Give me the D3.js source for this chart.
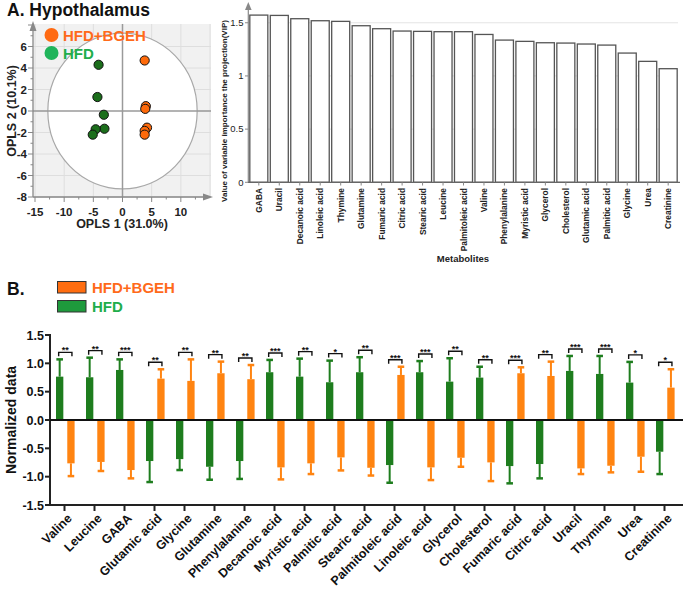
<!DOCTYPE html>
<html><head><meta charset="utf-8">
<script src="https://cdn.jsdelivr.net/npm/d3@7"></script>
<style>body{margin:0;background:#fff}svg{display:block;font-family:"Liberation Sans",Arial,sans-serif}</style>
</head><body>
<svg id="c" width="685" height="590"></svg>
<script>
// ---------- Panel A: OPLS-DA scores ----------
const bgehScoreX = [3.8, 4.0, 3.9, 4.2, 3.8, 3.8];
const bgehScoreY = [4.7, 0.45, 0.2, -1.55, -1.85, -2.2];
const hfdScoreX = [-4.1, -4.3, -3.2, -3.1, -4.6, -5.1];
const hfdScoreY = [4.3, 1.3, -0.35, -1.65, -1.7, -2.2];
const scoreXTicks = [-15, -10, -5, 0, 5, 10];
const scoreYTicks = [-8, -6, -4, -2, 0, 2, 4, 6];
const ellipseRadii = [12.8, 7.25];

// ---------- Panel A: VIP ----------
const vipMetabolites = ["GABA","Uracil","Decanoic acid","Linoleic acid","Thymine","Glutamine","Fumaric acid","Citric acid","Stearic acid","Leucine","Palmitoleic acid","Valine","Phenylalanine","Myristic acid","Glycerol","Cholesterol","Glutamic acid","Palmitic acid","Glycine","Urea","Creatinine"];
const vipValues = [1.572,1.569,1.538,1.519,1.513,1.472,1.444,1.422,1.419,1.416,1.416,1.39,1.337,1.325,1.312,1.309,1.30,1.29,1.215,1.137,1.068];
const vipTicks = [0, 0.5, 1, 1.5];

// ---------- Panel B: normalized data ----------
const categories = ["Valine","Leucine","GABA","Glutamic acid","Glycine","Glutamine","Phenylalanine","Decanoic acid","Myristic acid","Palmitic acid","Stearic acid","Palmitoleic acid","Linoleic acid","Glycerol","Cholesterol","Fumaric acid","Citric acid","Uracil","Thymine","Urea","Creatinine"];
const hfdMean = [0.765,0.754,0.883,-0.724,-0.69,-0.825,-0.724,0.843,0.765,0.666,0.843,-0.795,0.843,0.677,0.748,-0.813,-0.777,0.866,0.813,0.66,-0.56];
const hfdSD   = [0.305,0.346,0.187,0.371,0.193,0.229,0.316,0.217,0.318,0.382,0.265,0.312,0.197,0.413,0.192,0.305,0.253,0.264,0.317,0.365,0.394];
const bgehMean = [-0.765,-0.74,-0.883,0.73,0.69,0.825,0.72,-0.836,-0.765,-0.66,-0.843,0.795,-0.836,-0.666,-0.748,0.825,0.777,-0.854,-0.807,-0.648,0.571];
const bgehSD   = [0.225,0.16,0.147,0.165,0.38,0.205,0.25,0.212,0.189,0.23,0.137,0.145,0.224,0.159,0.33,0.105,0.253,0.1,0.117,0.265,0.325];
const significance = ["**","**","***","**","**","**","**","***","**","*","**","***","***","**","**","***","**","***","***","*","*"];
const normTicks = [-1.5,-1.0,-0.5,0.0,0.5,1.0,1.5];
const groups = ["HFD","HFD+BGEH"];

const ORANGE_PT = "#ff6a0a", GREEN_PT = "#1b6e1b";
const ORANGE_BAR = "#ff8411", GREEN_BAR = "#1e7d1e";
const ORANGE_TXT = "#ff6a1a", GREEN_TXT = "#20ad4a";

const svg = d3.select("#c");

// ================= Panel A scores =================
(function(){
  const x = d3.scaleLinear().domain([-15,15]).range([35,210]);
  const y = d3.scaleLinear().domain([-8,8]).range([197,25]);
  const g = svg.append("g");
  g.append("rect").attr("x",33).attr("y",24).attr("width",178).attr("height",173).attr("fill","#f1f1f1");
  g.selectAll(".hg").data(scoreYTicks).join("line")
    .attr("x1",33).attr("x2",211).attr("y1",d=>y(d)).attr("y2",d=>y(d)).attr("stroke","#dedede");
  g.selectAll(".vg").data(scoreXTicks.concat([15])).join("line")
    .attr("y1",24).attr("y2",197).attr("x1",d=>x(d)).attr("x2",d=>x(d)).attr("stroke","#dedede");
  g.append("ellipse").attr("cx",x(0)).attr("cy",y(0))
    .attr("rx",x(ellipseRadii[0])-x(0)).attr("ry",y(0)-y(ellipseRadii[1]))
    .attr("fill","#fff").attr("stroke","#a8a8a8").attr("stroke-width",1.2);
  g.append("line").attr("x1",33).attr("x2",211).attr("y1",y(0)).attr("y2",y(0)).attr("stroke","#9a9a9a").attr("stroke-width",1.5);
  g.append("line").attr("x1",x(0)).attr("x2",x(0)).attr("y1",24).attr("y2",197).attr("stroke","#9a9a9a").attr("stroke-width",1.5);
  g.append("line").attr("x1",33).attr("x2",33).attr("y1",197).attr("y2",30).attr("stroke","#888").attr("stroke-width",1.3);
  g.append("path").attr("d","M33,21L29.5,31L36.5,31Z").attr("fill","#888");
  g.append("line").attr("x1",33).attr("x2",205).attr("y1",197).attr("y2",197).attr("stroke","#888").attr("stroke-width",1.3);
  g.append("path").attr("d","M213,197L203,193.5L203,200.5Z").attr("fill","#888");
  const yMinor = d3.range(-8,8.01,1), xMinor = d3.range(-15,12.6,2.5);
  g.selectAll(".ym").data(yMinor).join("line").attr("x1",d=>d%2===0?28:30.5).attr("x2",33)
    .attr("y1",d=>y(d)).attr("y2",d=>y(d)).attr("stroke","#888");
  g.selectAll(".xm").data(xMinor).join("line").attr("y1",197).attr("y2",d=>d%5===0?202:199.5)
    .attr("x1",d=>x(d)).attr("x2",d=>x(d)).attr("stroke","#888");
  g.selectAll(".yl").data(scoreYTicks).join("text").attr("x",27).attr("y",d=>y(d)).attr("dy","0.35em")
    .attr("text-anchor","end").attr("font-size",11.5).attr("font-weight","bold").attr("fill","#222").text(d=>d);
  g.selectAll(".xl").data(scoreXTicks).join("text").attr("x",d=>x(d)).attr("y",216)
    .attr("text-anchor","middle").attr("font-size",11.5).attr("font-weight","bold").attr("fill","#222").text(d=>d);
  g.append("text").attr("x",122).attr("y",228).attr("text-anchor","middle").attr("font-size",12.5)
    .attr("font-weight","bold").attr("fill","#222").text("OPLS 1 (31.0%)");
  g.append("text").attr("transform","translate(16,111) rotate(-90)").attr("text-anchor","middle").attr("font-size",12.5)
    .attr("font-weight","bold").attr("fill","#222").text("OPLS 2 (10.1%)");
  const hfdPts = hfdScoreX.map((v,i)=>[v,hfdScoreY[i]]);
  const bgehPts = bgehScoreX.map((v,i)=>[v,bgehScoreY[i]]);
  g.selectAll(".hp").data(hfdPts).join("circle").attr("cx",d=>x(d[0])).attr("cy",d=>y(d[1])).attr("r",4.6)
    .attr("fill",GREEN_PT).attr("stroke","#111").attr("stroke-width",1);
  g.selectAll(".bp").data(bgehPts).join("circle").attr("cx",d=>x(d[0])).attr("cy",d=>y(d[1])).attr("r",4.6)
    .attr("fill",ORANGE_PT).attr("stroke","#111").attr("stroke-width",1);
  g.append("circle").attr("cx",51.5).attr("cy",35).attr("r",7).attr("fill","#ff6a12");
  g.append("text").attr("x",63).attr("y",40.5).attr("font-size",15).attr("font-weight","bold").attr("fill",ORANGE_TXT).text("HFD+BGEH");
  g.append("circle").attr("cx",51.5).attr("cy",53).attr("r",7).attr("fill","#1fb45a");
  g.append("text").attr("x",63).attr("y",58.5).attr("font-size",15).attr("font-weight","bold").attr("fill",GREEN_TXT).text("HFD");
  svg.append("text").attr("x",7).attr("y",16).attr("font-size",17.5).attr("font-weight","bold").attr("fill","#111").text("A. Hypothalamus");
})();

// ================= Panel A VIP =================
(function(){
  const x = d3.scaleBand().domain(vipMetabolites).range([249,678]).paddingInner(0.12).paddingOuter(0.04);
  const y = d3.scaleLinear().domain([0,1.65]).range([182.3,6.8]);
  const g = svg.append("g");
  g.selectAll(".gl").data(vipTicks.slice(1)).join("line").attr("x1",248).attr("x2",678)
    .attr("y1",d=>y(d)).attr("y2",d=>y(d)).attr("stroke","#e4e4e4");
  g.selectAll(".bar").data(vipMetabolites).join("rect")
    .attr("x",d=>x(d)).attr("width",x.bandwidth()).attr("y",(d,i)=>y(vipValues[i]))
    .attr("height",(d,i)=>y(0)-y(vipValues[i])).attr("fill","#fff").attr("stroke","#555").attr("stroke-width",1.3);
  g.append("line").attr("x1",248.3).attr("x2",248.3).attr("y1",182.3).attr("y2",8).attr("stroke","#888").attr("stroke-width",1.2);
  g.append("path").attr("d","M248.3,2L245,10L251.6,10Z").attr("fill","#888");
  g.append("line").attr("x1",248).attr("x2",680).attr("y1",182.3).attr("y2",182.3).attr("stroke","#666").attr("stroke-width",1.3);
  g.selectAll(".xt").data(vipMetabolites).join("line").attr("x1",d=>x(d)+x.bandwidth()/2).attr("x2",d=>x(d)+x.bandwidth()/2)
    .attr("y1",182.3).attr("y2",185.5).attr("stroke","#888");
  g.selectAll(".yt").data(vipTicks).join("line").attr("x1",245).attr("x2",248.3).attr("y1",d=>y(d)).attr("y2",d=>y(d)).attr("stroke","#888");
  g.selectAll(".yl").data(vipTicks).join("text").attr("x",243.5).attr("y",d=>y(d)).attr("dy","0.35em")
    .attr("text-anchor","end").attr("font-size",9.5).attr("fill","#222").text(d=>d);
  g.selectAll(".xl").data(vipMetabolites).join("text")
    .attr("transform",d=>`translate(${x(d)+x.bandwidth()/2+3},188) rotate(-90)`)
    .attr("text-anchor","end").attr("font-size",8.4).attr("font-weight","bold").attr("fill","#222").text(d=>d);
  g.append("text").attr("transform","translate(227,111) rotate(-90)").attr("text-anchor","middle")
    .attr("font-size",8).attr("font-weight","bold").attr("fill","#222").text("Value of variable importance the projection(VIP)");
  g.append("text").attr("x",463).attr("y",262).attr("text-anchor","middle").attr("font-size",9.5)
    .attr("font-weight","bold").attr("fill","#222").text("Metabolites");
})();

// ================= Panel B =================
(function(){
  const x = d3.scaleBand().domain(categories).range([49.5,679.5]).padding(0);
  const sub = d3.scaleBand().domain(groups).range([-8.5,10.1]).paddingInner(0.35);
  const y = d3.scaleLinear().domain([-1.5,1.5]).range([505,335]);
  const g = svg.append("g");
  const rows = categories.map((c,i)=>({c,i}));
  const series = [
    {grp:"HFD", mean:hfdMean, sd:hfdSD, col:GREEN_BAR},
    {grp:"HFD+BGEH", mean:bgehMean, sd:bgehSD, col:ORANGE_BAR}
  ];
  series.forEach(s=>{
    const cx = d=>x(d.c)+x.bandwidth()/2+sub(s.grp);
    g.selectAll(null).data(rows).join("rect")
      .attr("x",d=>cx(d)).attr("width",sub.bandwidth())
      .attr("y",d=>Math.min(y(0),y(s.mean[d.i]))).attr("height",d=>Math.abs(y(s.mean[d.i])-y(0)))
      .attr("fill",s.col);
    const tip = d=> s.mean[d.i] + Math.sign(s.mean[d.i])*s.sd[d.i];
    const mid = d=>cx(d)+sub.bandwidth()/2;
    g.selectAll(null).data(rows).join("line").attr("x1",mid).attr("x2",mid)
      .attr("y1",d=>y(s.mean[d.i])).attr("y2",d=>y(tip(d))).attr("stroke",s.col).attr("stroke-width",2);
    g.selectAll(null).data(rows).join("line").attr("x1",d=>mid(d)-3.3).attr("x2",d=>mid(d)+3.3)
      .attr("y1",d=>y(tip(d))).attr("y2",d=>y(tip(d))).attr("stroke",s.col).attr("stroke-width",2.5);
  });
  const maxTip = i => Math.max(hfdMean[i]+Math.sign(hfdMean[i])*hfdSD[i], bgehMean[i]+Math.sign(bgehMean[i])*bgehSD[i]);
  rows.forEach(d=>{
    const by = y(maxTip(d.i)) - 7;
    const x1 = x(d.c)+x.bandwidth()/2+sub("HFD")+sub.bandwidth()/2 - 1;
    const x2 = x(d.c)+x.bandwidth()/2+sub("HFD+BGEH")+sub.bandwidth()/2 + 1;
    g.append("path").attr("d",`M${x1},${by+4}V${by}H${x2}V${by+4}`).attr("fill","none").attr("stroke","#111").attr("stroke-width",1.4);
    g.append("text").attr("x",(x1+x2)/2).attr("y",by+1).attr("text-anchor","middle").attr("font-size",9)
      .attr("font-weight","bold").attr("fill","#111").text(significance[d.i]);
  });
  g.append("line").attr("x1",50).attr("x2",50).attr("y1",334).attr("y2",506).attr("stroke","#222").attr("stroke-width",2);
  g.append("line").attr("x1",49).attr("x2",683).attr("y1",505).attr("y2",505).attr("stroke","#222").attr("stroke-width",2);
  g.append("line").attr("x1",50).attr("x2",683).attr("y1",y(0)).attr("y2",y(0)).attr("stroke","#111").attr("stroke-width",2);
  g.selectAll(".yt").data(normTicks).join("line").attr("x1",45).attr("x2",50).attr("y1",d=>y(d)).attr("y2",d=>y(d)).attr("stroke","#222").attr("stroke-width",2);
  g.selectAll(".yl").data(normTicks).join("text").attr("x",44).attr("y",d=>y(d)).attr("dy","0.36em")
    .attr("text-anchor","end").attr("font-size",12.5).attr("font-weight","bold").attr("fill","#111").text(d=>d.toFixed(1));
  g.selectAll(".xt").data(categories).join("line").attr("x1",d=>x(d)+x.bandwidth()/2).attr("x2",d=>x(d)+x.bandwidth()/2)
    .attr("y1",505).attr("y2",511).attr("stroke","#222").attr("stroke-width",2);
  g.selectAll(".xl").data(categories).join("text")
    .attr("transform",d=>`translate(${x(d)+x.bandwidth()/2+5},516) rotate(-45)`)
    .attr("text-anchor","end").attr("dy","0.35em").attr("font-size",12.5).attr("font-weight","bold").attr("fill","#111").text(d=>d);
  g.append("text").attr("transform","translate(16,420) rotate(-90)").attr("text-anchor","middle")
    .attr("font-size",14).attr("font-weight","bold").attr("fill","#111").text("Normalized data");
  g.append("rect").attr("x",57.5).attr("y",281.5).attr("width",28.5).attr("height",11.5).attr("fill","#ff6d10").attr("stroke","#333").attr("stroke-width",1);
  g.append("text").attr("x",92).attr("y",293).attr("font-size",15).attr("font-weight","bold").attr("fill",ORANGE_TXT).text("HFD+BGEH");
  g.append("rect").attr("x",57.5).attr("y",300.5).attr("width",28.5).attr("height",11.5).attr("fill","#1e9a3c").attr("stroke","#333").attr("stroke-width",1);
  g.append("text").attr("x",92).attr("y",312).attr("font-size",15).attr("font-weight","bold").attr("fill",GREEN_TXT).text("HFD");
  svg.append("text").attr("x",7).attr("y",295).attr("font-size",17.5).attr("font-weight","bold").attr("fill","#111").text("B.");
})();
</script>
</body></html>
